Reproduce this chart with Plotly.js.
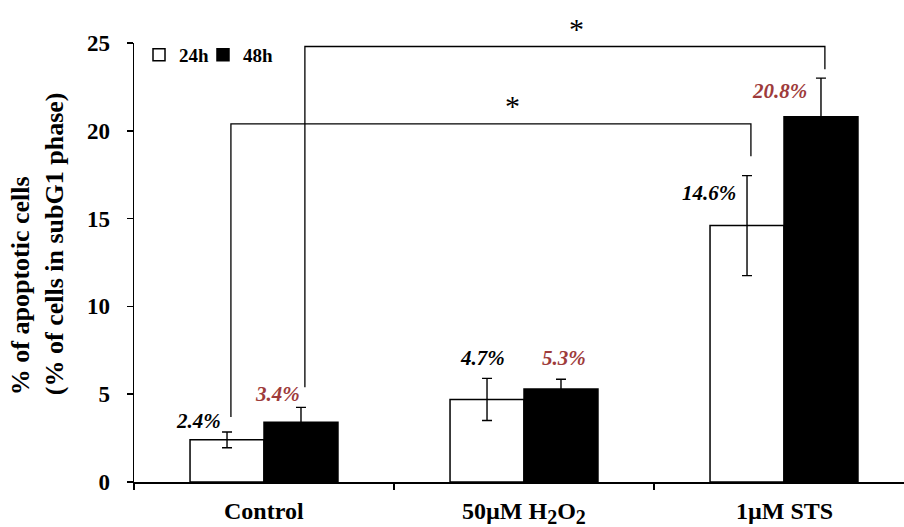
<!DOCTYPE html>
<html><head><meta charset="utf-8">
<script src="https://cdn.plot.ly/plotly-3.0.1.min.js"></script>
<style>html,body{margin:0;padding:0;background:#fff}#chart{width:904px;height:527px}</style>
</head><body><div id="chart"></div>
<script>
// ---- data ----
const categories = ['Control', '50µM H<sub><span style="font-size:20px">2</span></sub>O<sub><span style="font-size:20px">2</span></sub>', '1µM STS'];
const seriesNames = ['24h', '48h'];
const values24h = [2.4, 4.7, 14.6];
const values48h = [3.4, 5.3, 20.8];
const err24h = [0.45, 1.2, 2.85];
const err48h = [0.85, 0.55, 2.2];
const labels24h = ['2.4%', '4.7%', '14.6%'];
const labels48h = ['3.4%', '5.3%', '20.8%'];
const yTicks = [0, 5, 10, 15, 20, 25];
// significance brackets: [categoryIndex, seriesIndex] at each end
const sigFrom = [[0, 0], [0, 1]];
const sigTo = [[2, 0], [2, 1]];
const sigTop = [20.4, 24.8];
const sigLegLeft = [3.7, 5.4];
const sigLegRight = [18.55, 23.5];
const sigMark = ['*', '*'];

// ---- style ----
const FONT = 'Liberation Serif, Times New Roman, serif';
const BROWN = '#9E3B3B';
const bargap = 0.431;
const barW = (1 - bargap) / 2;
const off = [-barW / 2, barW / 2];
const lab24Off = [[-29, -19], [-5, -41], [-38, -33]];
const lab48Off = [[-23, -28], [3, -31], [-41, -26]];
const starShift = [22, 12];
const xIdx = categories.map((_, i) => i);

const traces = [
  {type: 'bar', name: seriesNames[0], x: xIdx, y: values24h, legend: 'legend',
   marker: {color: '#ffffff', line: {color: '#000', width: 1.5}},
   error_y: {type: 'data', array: err24h, visible: true, color: '#000', thickness: 1.4, width: 5}},
  {type: 'bar', name: seriesNames[1], x: xIdx, y: values48h, legend: 'legend2',
   marker: {color: '#000000', line: {color: '#000', width: 1.5}},
   error_y: {type: 'data', array: err48h, visible: true, color: '#000', thickness: 1.4, width: 5}}
];

const annotations = [];
const serVals = [values24h, values48h];
const serLabels = [labels24h, labels48h];
const serOff = [lab24Off, lab48Off];
const serColor = ['#000000', BROWN];
for (let s = 0; s < 2; s++) {
  for (let i = 0; i < categories.length; i++) {
    annotations.push({xref: 'x', yref: 'y', x: i + off[s], y: serVals[s][i],
      text: serLabels[s][i], showarrow: false, xanchor: 'center', yanchor: 'middle',
      xshift: serOff[s][i][0], yshift: -serOff[s][i][1],
      font: {family: FONT, size: 21, color: serColor[s], weight: 'bold', style: 'italic'}});
  }
}
categories.forEach((c, i) => annotations.push({xref: 'x', yref: 'paper', x: i, y: 0,
  text: c, showarrow: false, xanchor: 'center', yanchor: 'top', yshift: -14,
  font: {family: FONT, size: 24, color: '#000', weight: 'bold'}}));
annotations.push({xref: 'paper', yref: 'paper', x: -0.1253, y: 0.543, xanchor: 'center', yanchor: 'middle',
  text: '% of apoptotic cells<br>(% of cells in subG1 phase)', textangle: -90, align: 'left', showarrow: false,
  font: {family: FONT, size: 26, color: '#000', weight: 'bold'}});

const shapes = [];
const legX = 0.015;
for (let k = 0; k < sigTop.length; k++) {
  const x0 = sigFrom[k][0] + off[sigFrom[k][1]] + legX;
  const x1 = sigTo[k][0] + off[sigTo[k][1]] + legX;
  shapes.push({type: 'path', xref: 'x', yref: 'y',
    path: `M${x0},${sigLegLeft[k]} L${x0},${sigTop[k]} L${x1},${sigTop[k]} L${x1},${sigLegRight[k]}`,
    line: {color: '#000', width: 1.3}});
  annotations.push({xref: 'x', yref: 'y', x: (x0 + x1) / 2, y: sigTop[k], text: sigMark[k],
    showarrow: false, xanchor: 'center', yanchor: 'middle', xshift: starShift[k], yshift: 18,
    font: {family: FONT, size: 30, color: '#000'}});
}

const legendBase = {orientation: 'h', y: 1.016, xanchor: 'left', yanchor: 'top',
  font: {family: FONT, size: 19, color: '#000', weight: 'bold'}, itemwidth: 30,
  bgcolor: 'rgba(0,0,0,0)'};

const layout = {
  width: 904, height: 527,
  margin: {l: 134, r: 0, t: 43, b: 45, pad: 0},
  paper_bgcolor: '#fff', plot_bgcolor: '#fff',
  barmode: 'group', bargap: bargap, bargroupgap: 0,
  showlegend: true,
  legend: Object.assign({}, legendBase, {x: 0.0065}),
  legend2: Object.assign({}, legendBase, {x: 0.0896}),
  xaxis: {range: [-0.5, -0.5 + 770 / 260], tickvals: [-0.5, 0.5, 1.5], showticklabels: false,
    ticks: 'outside', ticklen: 6, tickwidth: 1.5, tickcolor: '#000',
    showline: true, linecolor: '#000', linewidth: 1.5, showgrid: false, zeroline: false, fixedrange: true},
  yaxis: {range: [0, 25], tickvals: yTicks, ticktext: yTicks.map(String),
    ticks: 'outside', ticklen: 6, tickwidth: 1.5, tickcolor: '#000', ticklabelstandoff: 12,
    showline: true, linecolor: '#000', linewidth: 1.5, showgrid: false, zeroline: false,
    tickfont: {family: FONT, size: 23, color: '#000', weight: 'bold'}, fixedrange: true},
  annotations: annotations,
  shapes: shapes
};

Plotly.newPlot('chart', traces, layout, {staticPlot: true, displayModeBar: false});
</script>
</body></html>
